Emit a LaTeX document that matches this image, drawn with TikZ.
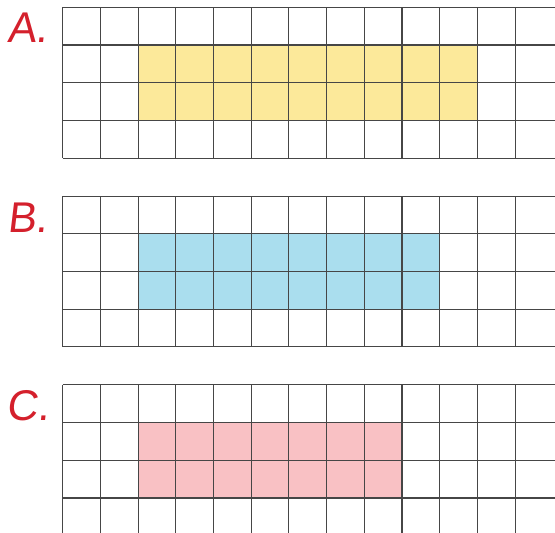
\documentclass[tikz,border=0pt]{standalone}
\usepackage{fontspec}
\newfontfamily\hand[FakeSlant=0.12]{Liberation Sans}
\definecolor{lbl}{RGB}{212,32,44}
\definecolor{gridc}{RGB}{70,70,70}
\definecolor{yel}{RGB}{252,233,154}
\definecolor{blu}{RGB}{170,222,238}
\definecolor{pnk}{RGB}{249,193,196}
\tikzset{
  gridline/.style={draw=gridc, line width=1.1pt},
  letter/.style={font=\hand\fontsize{43}{43}\selectfont, text=lbl, inner sep=0pt, anchor=base west}
}
\begin{document}
\begin{tikzpicture}[x=1pt,y=-1pt]
\useasboundingbox (0,0) rectangle (555,533);
\clip (0,0) rectangle (555,533);
\def\cs{37.7}
% fills
\fill[yel] (138.1,44.9) rectangle (477.4,120.3);
\fill[blu] (138.1,233.7) rectangle (439.7,309.1);
\fill[pnk] (138.1,422.7) rectangle (401.9,498.1);
% grids
\foreach \T in {7.3,196.1,384.9}{
  \foreach \k in {0,...,4}{
    \draw[gridline] (62.7,\T+\k*\cs) -- (560,\T+\k*\cs);
  }
  \foreach \k in {0,...,12}{
    \draw[gridline] (62.7+\k*\cs,\T) -- (62.7+\k*\cs,\T+4*\cs);
  }
}
\node[letter] (la) at (7,42) {A.};
\node[letter] (lb) at (7,232) {B.};
\node[letter] (lc) at (6,420) {C.};
\end{tikzpicture}
\end{document}
